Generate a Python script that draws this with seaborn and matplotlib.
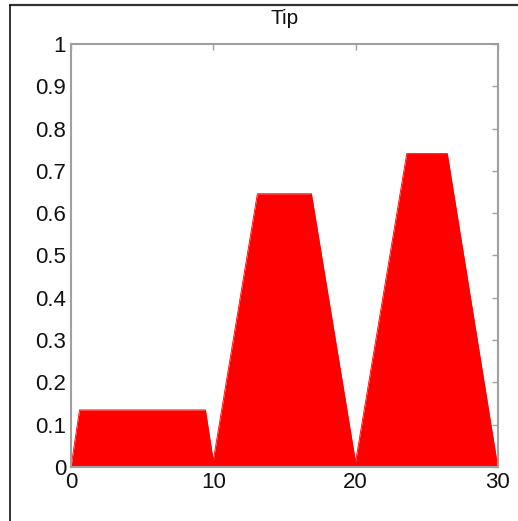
"""
Fuzzy output membership for 'Tip' (aggregated, clipped) - seaborn recreation
"""

import numpy as np
import pandas as pd
import matplotlib
matplotlib.use('Agg')
import matplotlib.pyplot as plt
from matplotlib.lines import Line2D
import seaborn as sns

# Polygon vertices
tip_x = [0, 0.6, 9.45, 10.0, 13.1, 16.9, 20.0, 23.6, 26.45, 30]
tip_mu = [0, 0.135, 0.135, 0.015, 0.646, 0.646, 0.012, 0.741, 0.741, 0]

x_ticks = [0, 10, 20, 30]
y_ticks = [0, 0.1, 0.2, 0.3, 0.4, 0.5, 0.6, 0.7, 0.8, 0.9, 1]
y_tick_labels = ['0', '0.1', '0.2', '0.3', '0.4', '0.5', '0.6', '0.7', '0.8', '0.9', '1']

df = pd.DataFrame({'x': tip_x, 'mu': tip_mu})

sns.set_style('white')
plt.rcParams['font.family'] = ['Liberation Sans', 'DejaVu Sans']

fig = plt.figure(figsize=(5.18, 5.21), dpi=100)
ax = fig.add_axes([0.137, 0.1036, 0.824, 0.812])

sns.lineplot(data=df, x='x', y='mu', color='red', lw=0.6, ax=ax, sort=False)
ax.fill_between(df['x'], df['mu'], 0, color='red', lw=0)

ax.set_xlim(0, 30)
ax.set_ylim(0, 1)
ax.set_xticks(x_ticks)
ax.set_xticklabels([str(v) for v in x_ticks])
ax.set_yticks(y_ticks)
ax.set_yticklabels(y_tick_labels)
ax.set_xlabel('')
ax.set_ylabel('')
ax.set_title('Tip', fontsize=15, pad=14.5, color='#111111')

ax.tick_params(axis='both', direction='in', length=4, width=1, color='#a0a0a0',
               labelsize=16, labelcolor='#111111', top=True, right=True, pad=3.5)
for side in ['left', 'right', 'top', 'bottom']:
    ax.spines[side].set_visible(True)
    ax.spines[side].set_color('#a0a0a0')
    ax.spines[side].set_linewidth(1.5)

# outer frame on top and left of the figure
fig.add_artist(Line2D([10 / 518, 1.0], [1 - 4.5 / 521, 1 - 4.5 / 521],
                      transform=fig.transFigure, color='#333333', lw=1.6))
fig.add_artist(Line2D([10 / 518, 10 / 518], [0.0, 1 - 4.5 / 521],
                      transform=fig.transFigure, color='#111111', lw=1.2))

fig.savefig('out.png', dpi=100)
